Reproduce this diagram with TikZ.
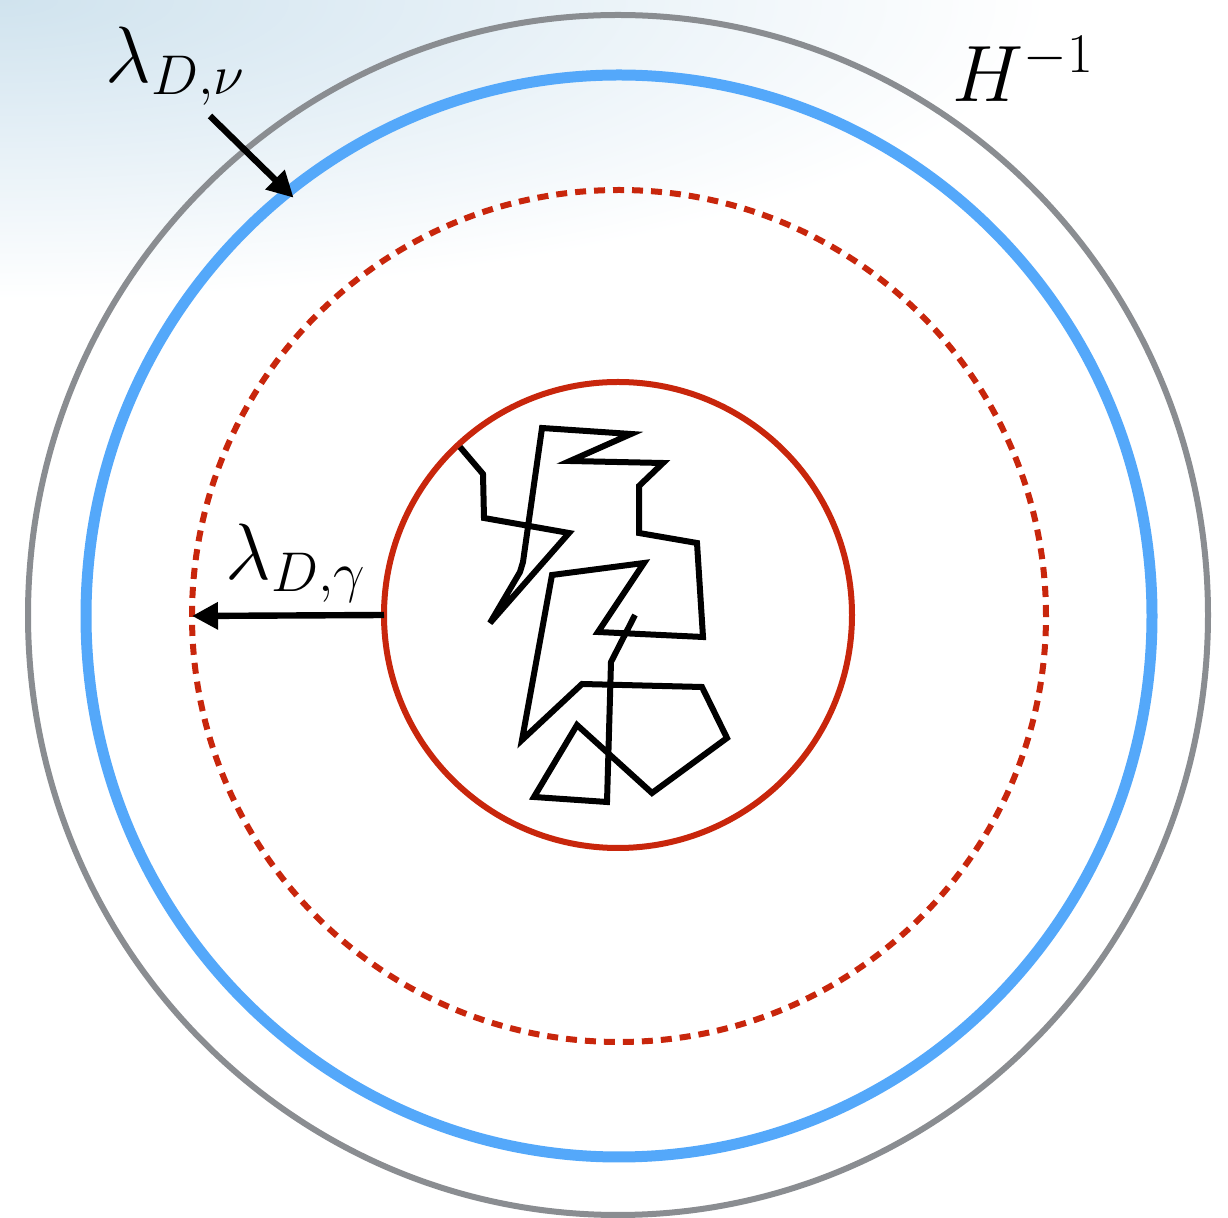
\documentclass[tikz,border=0pt]{standalone}
\usepackage{fix-cm}
\usetikzlibrary{arrows.meta,shapes.geometric}
\definecolor{ringgrey}{RGB}{138,141,145}
\definecolor{ringblue}{RGB}{84,168,250}
\definecolor{ringred}{RGB}{200,38,12}
\definecolor{bgblue}{RGB}{208,227,238}
\definecolor{bgmid}{RGB}{228,239,246}
\pgfdeclareradialshading{bgglow}{\pgfpoint{0bp}{0bp}}{color(0bp)=(bgblue); color(11bp)=(bgmid); color(25bp)=(white); color(50bp)=(white)}
\tikzset{
  ring/.style={ellipse, inner sep=0pt, outer sep=0pt},
  walk/.style={line width=3pt, black, line join=miter},
  pointer/.style={line width=3.2pt, black, -{Triangle[length=13pt,width=13pt]}},
  mathlabel/.style={font=\fontsize{40}{44}\selectfont, inner sep=0pt, anchor=base west}
}
\begin{document}
\begin{tikzpicture}[x=0.5pt,y=-0.5pt]
\useasboundingbox (0,0) rectangle (1228,1218);
\fill[white] (0,0) rectangle (1228,1218);
\begin{scope}
  \clip (0,0) rectangle (1228,1218);
  \shade[shading=bgglow] (0,0) ellipse (1050 and 300);
\end{scope}

% rings
\node[ring, draw=ringgrey, line width=3pt, minimum width=590pt, minimum height=600pt] (hubble) at (618,615) {};
\node[ring, draw=ringblue, line width=5.5pt, minimum width=533pt, minimum height=541pt] (blue) at (619,616) {};
\node[ring, draw=ringred, line width=3pt, dash pattern=on 5.5pt off 4pt, minimum width=427pt, minimum height=426pt] (dotted) at (619,616) {};
\node[ring, draw=ringred, line width=3pt, minimum width=234pt, minimum height=233pt] (inner) at (618,615) {};

% random walk
\draw[walk] (460,447) -- (483,474) -- (484,518) -- (569,533) -- (490,623)
  -- (520,572) -- (523,562) -- (542,428) -- (631,434) -- (570,461) -- (663,463)
  -- (639,486) -- (639,533) -- (697,543) -- (703,637) -- (598,632) -- (644,563)
  -- (552,575) -- (522,740) -- (582,684) -- (702,687) -- (727,738) -- (652,793)
  -- (577,725) -- (534,797) -- (607,802) -- (611,662) -- (635,615);

% labels
\node[mathlabel] (nulabel) at (105,83) {$\lambda_{D,\nu}$};
\node[mathlabel] (hlabel) at (952,102) {$H^{-1}$};
\node[mathlabel] (gammalabel) at (225,580) {$\lambda_{D,\gamma}$};

% arrows
\coordinate (nutail) at (210,116);
\draw[pointer, shorten >=-4pt] (nutail) -- (blue.128);
\draw[pointer] (inner.west) -- (dotted.west);
\end{tikzpicture}
\end{document}
